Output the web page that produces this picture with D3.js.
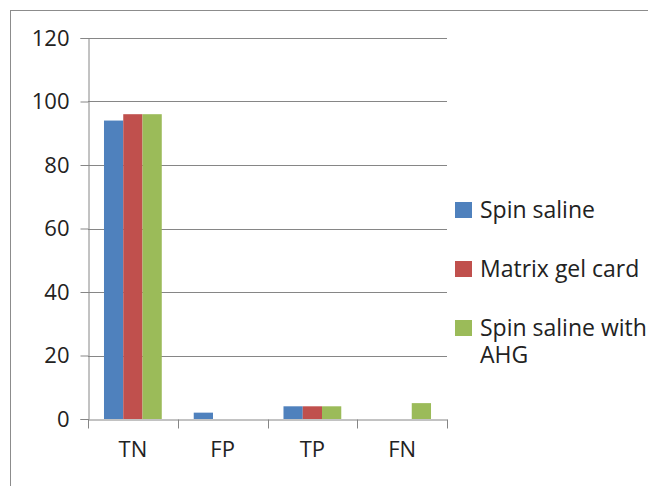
<!DOCTYPE html>
<html>
<head>
<meta charset="utf-8">
<script src="https://cdn.jsdelivr.net/npm/d3@7.9.0/dist/d3.min.js"></script>
<style>
  body { margin: 0; background: #fff; }
  svg text { font-family: "Open Sans", "Noto Sans", sans-serif; fill: #222; }
</style>
</head>
<body>
<svg id="chart" width="648" height="486"></svg>
<script>
// --- data ---
const categories = ['TN', 'FP', 'TP', 'FN'];
const seriesNames = ['Spin saline', 'Matrix gel card', 'Spin saline with AHG'];
const spinSaline = [94, 2, 4, 0];
const matrixGel = [96, 0, 4, 0];
const spinSalineAHG = [96, 0, 4, 5];
const yTicks = [0, 20, 40, 60, 80, 100, 120];
const colors = ['#4F81BD', '#C0504D', '#9BBB59'];

const series = [spinSaline, matrixGel, spinSalineAHG];

// --- layout ---
const svg = d3.select('#chart');
const plot = { left: 88, right: 447, top: 38, bottom: 419 };

// outer frame
svg.append('rect')
  .attr('x', 10.5).attr('y', 10.5)
  .attr('width', 660).attr('height', 500)
  .attr('fill', 'none').attr('stroke', '#8c8c8c');

const x = d3.scaleBand().domain(categories).range([plot.left, plot.right]).paddingInner(0).paddingOuter(0);
const y = d3.scaleLinear().domain([0, 120]).range([plot.bottom, plot.top]);
const xs = d3.scaleBand().domain(d3.range(series.length)).range([0, x.bandwidth()]).paddingOuter(0.83).paddingInner(0);

// gridlines
svg.append('g')
  .selectAll('line')
  .data(yTicks.filter(d => d > 0))
  .join('line')
  .attr('x1', plot.left).attr('x2', plot.right)
  .attr('y1', d => Math.round(y(d)) + 0.5).attr('y2', d => Math.round(y(d)) + 0.5)
  .attr('stroke', '#868686');

// bars
series.forEach((vals, si) => {
  svg.append('g')
    .selectAll('rect')
    .data(vals)
    .join('rect')
    .attr('x', (d, i) => x(categories[i]) + xs(si))
    .attr('y', d => y(d))
    .attr('width', xs.bandwidth())
    .attr('height', d => y(0) - y(d))
    .attr('fill', colors[si]);
});

// y axis
const yAxis = svg.append('g')
  .attr('transform', `translate(${plot.left + 0.5},0)`)
  .call(d3.axisLeft(y).tickValues(yTicks).tickSize(8).tickPadding(11));
yAxis.selectAll('text').style('font-size', '22px');

// x axis
const xAxis = svg.append('g')
  .attr('transform', `translate(0,${Math.round(y(0)) + 0.5})`)
  .call(d3.axisBottom(x).tickSize(0).tickPadding(22));
xAxis.selectAll('text').style('font-size', '22px');
xAxis.selectAll('.tick line').remove();
xAxis.append('g')
  .selectAll('line')
  .data(d3.range(categories.length + 1))
  .join('line')
  .attr('x1', i => Math.round(plot.left + i * x.bandwidth()) + 0.5)
  .attr('x2', i => Math.round(plot.left + i * x.bandwidth()) + 0.5)
  .attr('y1', 0).attr('y2', 9)
  .attr('stroke', '#868686');

svg.selectAll('.domain').attr('stroke', '#868686');
yAxis.selectAll('.tick line').attr('stroke', '#868686');

// legend
const legend = svg.append('g').attr('transform', 'translate(455,0)');
const legendRows = [
  { y: 210, lines: ['Spin saline'] },
  { y: 269, lines: ['Matrix gel card'] },
  { y: 328, lines: ['Spin saline with', 'AHG'] }
];
legendRows.forEach((row, i) => {
  legend.append('rect')
    .attr('x', 0).attr('y', row.y - 8)
    .attr('width', 17).attr('height', 16)
    .attr('fill', colors[i]);
  const t = legend.append('text')
    .attr('x', 25).attr('y', row.y)
    .style('font-size', '23px');
  row.lines.forEach((ln, j) => {
    t.append('tspan').attr('x', 25).attr('dy', j === 0 ? '0.35em' : '1.15em').text(ln);
  });
});
</script>
</body>
</html>
